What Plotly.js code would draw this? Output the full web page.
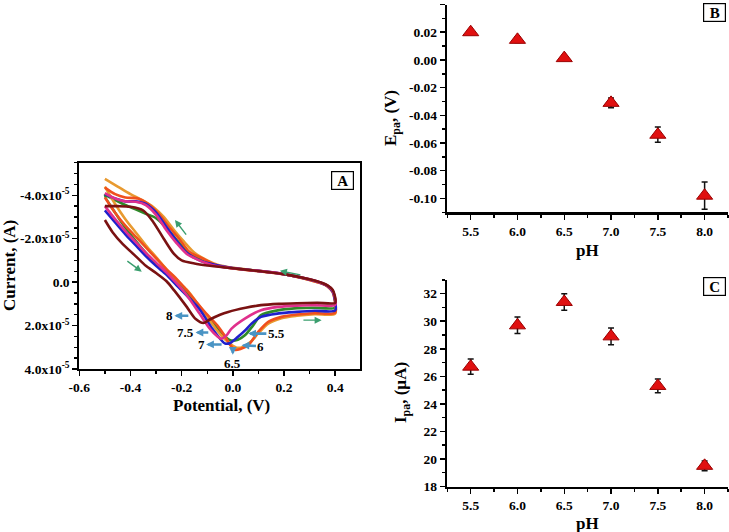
<!DOCTYPE html>
<html>
<head>
<meta charset="utf-8">
<script src="https://cdn.plot.ly/plotly-3.0.1.min.js"></script>
<style>html,body{margin:0;padding:0;background:#fff;}#chart{width:729px;height:532px;}</style>
</head>
<body>
<div id="chart"></div>
<script>
// ---------- Panel A: cyclic voltammograms (potential V, current in units of 1e-5 A) ----------
const phLabels = ['5.5', '6', '6.5', '7', '7.5', '8'];
const cvColors = ['#2f8a2a', '#e89a30', '#f0501e', '#2020cc', '#e0308c', '#7a1212'];

const cv55_x = [-0.5,-0.46,-0.42,-0.38,-0.34,-0.30,-0.26,-0.22,-0.19,-0.15,-0.10,-0.06,-0.03,-0.01,0.02,0.047,0.08,0.11,0.18,0.24,0.32,0.40,
                0.398,0.39,0.37,0.35,0.30,0.20,0.10,0.00,-0.08,-0.14,-0.18,-0.22,-0.26,-0.30,-0.34,-0.38,-0.42,-0.46,-0.50];
const cv55_y = [-4.0,-3.2,-2.5,-1.9,-1.35,-0.85,-0.45,-0.05,0.3,0.95,1.55,2.12,2.5,2.68,2.65,2.45,1.98,1.52,1.29,1.21,1.18,1.17,
                0.7,0.4,0.17,0.06,-0.12,-0.37,-0.52,-0.64,-0.8,-1.1,-1.45,-1.95,-2.5,-2.95,-3.15,-3.35,-3.55,-3.78,-4.0];

const cv6_x = [-0.5,-0.46,-0.42,-0.38,-0.34,-0.30,-0.26,-0.22,-0.18,-0.14,-0.10,-0.06,-0.02,0.015,0.04,0.07,0.10,0.14,0.19,0.25,0.32,0.40,
               0.398,0.39,0.37,0.35,0.30,0.20,0.10,0.00,-0.06,-0.10,-0.15,-0.19,-0.23,-0.27,-0.31,-0.35,-0.40,-0.45,-0.50];
const cv6_y = [-4.4,-3.6,-2.9,-2.3,-1.7,-1.15,-0.6,-0.1,0.35,0.95,1.6,2.25,2.75,3.02,2.98,2.75,2.35,1.9,1.66,1.55,1.48,1.45,
               0.8,0.45,0.2,0.08,-0.1,-0.37,-0.52,-0.66,-0.8,-1.0,-1.35,-1.85,-2.4,-3.0,-3.45,-3.75,-4.05,-4.4,-4.75];

const cv65_x = [-0.5,-0.46,-0.42,-0.38,-0.34,-0.30,-0.26,-0.22,-0.18,-0.14,-0.10,-0.06,-0.03,-0.01,0.008,0.03,0.06,0.10,0.14,0.19,0.25,0.32,0.40,
                0.398,0.39,0.37,0.35,0.30,0.20,0.10,0.00,-0.07,-0.12,-0.17,-0.21,-0.25,-0.29,-0.33,-0.37,-0.42,-0.46,-0.50];
const cv65_y = [-3.9,-3.2,-2.6,-2.1,-1.6,-1.1,-0.6,-0.15,0.38,0.95,1.5,2.0,2.5,2.9,3.12,3.08,2.91,2.28,1.82,1.6,1.49,1.43,1.4,
                0.8,0.45,0.2,0.07,-0.1,-0.36,-0.5,-0.63,-0.8,-1.1,-1.4,-2.0,-2.55,-3.15,-3.6,-3.85,-3.9,-4.05,-4.35];

const cv7_x = [-0.5,-0.46,-0.42,-0.38,-0.34,-0.30,-0.26,-0.22,-0.18,-0.13,-0.08,-0.05,-0.03,-0.01,0.02,0.05,0.073,0.11,0.18,0.25,0.32,0.40,
               0.398,0.39,0.37,0.35,0.30,0.20,0.10,0.00,-0.07,-0.13,-0.18,-0.22,-0.26,-0.30,-0.34,-0.38,-0.42,-0.46,-0.50];
const cv7_y = [-3.3,-2.75,-2.2,-1.7,-1.2,-0.75,-0.35,0.15,0.62,1.25,2.15,2.6,2.83,2.8,2.52,2.2,1.91,1.6,1.44,1.37,1.32,1.3,
               0.75,0.42,0.18,0.06,-0.12,-0.37,-0.52,-0.65,-0.8,-1.0,-1.35,-1.9,-2.55,-3.2,-3.6,-3.72,-3.72,-3.85,-4.05];

const cv75_x = [-0.5,-0.46,-0.42,-0.38,-0.34,-0.30,-0.26,-0.22,-0.18,-0.13,-0.09,-0.06,-0.045,-0.025,-0.005,0.047,0.11,0.18,0.25,0.32,0.40,
                0.398,0.39,0.37,0.35,0.30,0.20,0.10,0.00,-0.08,-0.14,-0.18,-0.22,-0.26,-0.30,-0.34,-0.38,-0.42,-0.46,-0.50];
const cv75_y = [-3.5,-2.9,-2.35,-1.85,-1.35,-0.9,-0.45,0.05,0.6,1.45,2.14,2.5,2.6,2.45,2.14,1.68,1.29,1.14,1.08,1.06,1.05,
                0.65,0.38,0.16,0.05,-0.13,-0.37,-0.52,-0.64,-0.78,-1.05,-1.3,-1.8,-2.4,-3.1,-3.55,-3.7,-3.72,-3.85,-4.1];

const cv8_x = [-0.5,-0.47,-0.43,-0.38,-0.34,-0.30,-0.26,-0.23,-0.18,-0.145,-0.115,-0.09,-0.05,-0.018,0.05,0.11,0.18,0.25,0.33,0.40,
               0.398,0.39,0.37,0.35,0.30,0.20,0.10,0.00,-0.10,-0.15,-0.20,-0.23,-0.27,-0.31,-0.35,-0.40,-0.45,-0.50];
const cv8_y = [-2.86,-2.3,-1.75,-1.2,-0.75,-0.42,-0.05,0.37,1.14,1.7,1.88,1.72,1.5,1.37,1.18,1.06,1.0,0.97,0.95,0.95,
               0.6,0.35,0.15,0.04,-0.13,-0.37,-0.51,-0.64,-0.77,-0.86,-1.0,-1.3,-2.0,-2.75,-3.3,-3.47,-3.5,-3.5];

const cvX = [cv55_x, cv6_x, cv65_x, cv7_x, cv75_x, cv8_x];
const cvY = [cv55_y, cv6_y, cv65_y, cv7_y, cv75_y, cv8_y];
const currentUnit = 1e-5;

// ---------- Panels B and C ----------
const pH = [5.5, 6.0, 6.5, 7.0, 7.5, 8.0];
const Epa = [0.020, 0.0145, 0.0013, -0.031, -0.054, -0.098];
const EpaErr = [0.0015, 0.002, 0.001, 0.0035, 0.0055, 0.0098];
const Ipa = [26.7, 29.7, 31.4, 28.9, 25.3, 19.5];
const IpaErr = [0.55, 0.6, 0.6, 0.6, 0.5, 0.35];

const aYTicks = [-4, -2, 0, 2, 4];
const aYTickText = ['-4.0x10<sup>-5</sup>', '-2.0x10<sup>-5</sup>', '0.0', '2.0x10<sup>-5</sup>', '4.0x10<sup>-5</sup>'];
const aXTicks = [-0.6, -0.4, -0.2, 0, 0.2, 0.4];
const aXTickText = ['-0.6', '-0.4', '-0.2', '0.0', '0.2', '0.4'];
const phTicks = [5.5, 6.0, 6.5, 7.0, 7.5, 8.0];
const phTickText = ['5.5', '6.0', '6.5', '7.0', '7.5', '8.0'];
const bYTicks = [0.04, 0.02, 0.00, -0.02, -0.04, -0.06, -0.08, -0.10];
const bYTickText = ['0.04', '0.02', '0.00', '-0.02', '-0.04', '-0.06', '-0.08', '-0.10'];
const cYTicks = [18, 20, 22, 24, 26, 28, 30, 32];
const cYTickText = ['18', '20', '22', '24', '26', '28', '30', '32'];

const bold = arr => arr.map(t => '<b>' + t + '</b>');
const FONT = 'Liberation Serif';
const traces = [];
for (let i = 0; i < cvX.length; i++) {
  traces.push({
    x: cvX[i], y: cvY[i].map(v => v * currentUnit), xaxis: 'x', yaxis: 'y',
    type: 'scatter', mode: 'lines', name: 'pH ' + phLabels[i],
    line: {color: cvColors[i], width: 2.6, shape: 'spline', smoothing: 0.8},
    showlegend: false, hoverinfo: 'skip'
  });
}
const markerStyle = {symbol: 'triangle-up', size: 14, color: '#e01010', line: {color: '#9a0000', width: 1}};
traces.push({
  x: pH, y: Epa, xaxis: 'x2', yaxis: 'y2', type: 'scatter', mode: 'markers', marker: markerStyle,
  error_y: {type: 'data', array: EpaErr, visible: true, color: '#111', thickness: 1.5, width: 3}, showlegend: false
});
traces.push({
  x: pH, y: Ipa, xaxis: 'x3', yaxis: 'y3', type: 'scatter', mode: 'markers', marker: markerStyle,
  error_y: {type: 'data', array: IpaErr, visible: true, color: '#111', thickness: 1.5, width: 3}, showlegend: false
});

function axisBase(extra) {
  return Object.assign({
    showgrid: false, zeroline: false, showline: true, linecolor: '#000', linewidth: 2,
    ticks: 'outside', ticklen: 5, tickwidth: 1.5, tickcolor: '#000',
    tickfont: {family: FONT, size: 13.5, color: '#000'}
  }, extra);
}

const W = 729, H = 532;
const px = v => v / W, py = v => 1 - v / H;

const annotations = [];
function title(text, x, y, angle, size) {
  annotations.push({text: text, xref: 'paper', yref: 'paper', x: px(x), y: py(y), showarrow: false,
    textangle: angle, font: {family: FONT, size: size, color: '#000'}, xanchor: 'center', yanchor: 'middle'});
}
title('<b>Current, (A)</b>', 9, 266, -90, 17);
title('<b>Potential, (V)</b>', 221, 405, 0, 17);
title('<b>E<sub>pa</sub>, (V)</b>', 392, 118, -90, 17);
title('<b>pH</b>', 587, 250, 0, 17);
title('<b>I<sub>pa</sub>, (µA)</b>', 402, 393, -90, 17);
title('<b>pH</b>', 587, 523, 0, 17);
function box(letter, x, y) {
  annotations.push({text: '<b>' + letter + '</b>', xref: 'paper', yref: 'paper', x: px(x), y: py(y),
    showarrow: false, font: {family: FONT, size: 15, color: '#000'}, bordercolor: '#000', borderwidth: 1.2,
    borderpad: 2, bgcolor: '#fff', xanchor: 'center', yanchor: 'middle', width: 17, height: 13});
}
box('A', 342, 180.5); box('B', 714.5, 12.8); box('C', 714.5, 286.7);

// sweep direction arrows (green)
function arrow(x0, y0, x1, y1) {
  annotations.push({text: '', xref: 'x', yref: 'y', axref: 'x', ayref: 'y', x: x1, y: y1 * currentUnit,
    ax: x0, ay: y0 * currentUnit, showarrow: true, arrowcolor: '#3a9e6e', arrowwidth: 1.4, arrowhead: 2,
    arrowsize: 1, standoff: 0, startstandoff: 0});
}
arrow(-0.178, -2.12, -0.226, -2.86);
arrow(-0.418, -1.02, -0.356, -0.48);
arrow(0.27, -0.32, 0.184, -0.52);
arrow(0.27, 1.75, 0.347, 1.75);
// pH labels with blue arrows: label at (tx,ty), arrow runs to (x,y); side says where the head is
function lab(t, tx, ty, x, y, side) {
  annotations.push({text: '<b>' + t + '</b>', xref: 'x', yref: 'y', axref: 'x', ayref: 'y',
    x: x, y: y * currentUnit, ax: tx, ay: ty * currentUnit, showarrow: true,
    arrowcolor: '#4a94c4', arrowwidth: 2.6, arrowhead: 2, startarrowhead: 2, arrowsize: 0.6, startarrowsize: 0.6,
    arrowside: side, standoff: 0, startstandoff: 1, borderpad: 0,
    font: {family: FONT, size: 13, color: '#000'}});
}
lab('8', -0.248, 1.55, -0.174, 1.55, 'start');
lab('7.5', -0.185, 2.32, -0.096, 2.32, 'start');
lab('7', -0.124, 2.87, -0.044, 2.87, 'start');
lab('6.5', 0.0, 3.76, 0.0, 3.2, 'start');
lab('6', 0.11, 2.95, 0.034, 2.91, 'end');
lab('5.5', 0.17, 2.37, 0.06, 2.37, 'end');

const layout = {
  width: W, height: H, autosize: false, margin: {l: 0, r: 0, t: 0, b: 0},
  paper_bgcolor: '#fff', plot_bgcolor: '#fff', showlegend: false,
  font: {family: FONT, color: '#000'},
  xaxis: axisBase({domain: [px(79.3), px(359.5)], range: [-0.6, 0.495], anchor: 'y', mirror: true,
    tickvals: aXTicks, ticktext: bold(aXTickText), minor: {dtick: 0.1, tick0: -0.6, ticks: 'outside', ticklen: 3, tickcolor: '#000'}}),
  yaxis: axisBase({domain: [py(369), py(162.7)], range: [4e-5, -5.5e-5], anchor: 'x', mirror: true,
    tickvals: aYTicks.map(v => v * currentUnit), ticktext: bold(aYTickText),
    minor: {dtick: 0.5e-5, tick0: 0, ticks: 'outside', ticklen: 3, tickcolor: '#000'}}),
  xaxis2: axisBase({domain: [px(447.3), px(728)], range: [5.25, 8.25], anchor: 'y2', linewidth: 2.5,
    tickvals: phTicks, ticktext: bold(phTickText), minor: {dtick: 0.25, tick0: 5.25, ticks: 'outside', ticklen: 3, tickcolor: '#000'}}),
  yaxis2: axisBase({domain: [py(212.3), py(4.5)], range: [-0.11, 0.04], anchor: 'x2', linewidth: 2.5,
    tickvals: bYTicks, ticktext: bold(bYTickText), minor: {dtick: 0.01, tick0: 0, ticks: 'outside', ticklen: 3, tickcolor: '#000'}}),
  xaxis3: axisBase({domain: [px(447.3), px(728)], range: [5.25, 8.25], anchor: 'y3', linewidth: 2.5,
    tickvals: phTicks, ticktext: bold(phTickText), minor: {dtick: 0.25, tick0: 5.25, ticks: 'outside', ticklen: 3, tickcolor: '#000'}}),
  yaxis3: axisBase({domain: [py(486.5), py(279.9)], range: [18, 33], anchor: 'x3', linewidth: 2.5,
    tickvals: cYTicks, ticktext: bold(cYTickText), minor: {dtick: 1, tick0: 18, ticks: 'outside', ticklen: 3, tickcolor: '#000'}}),
  annotations: annotations
};

Plotly.newPlot('chart', traces, layout, {displayModeBar: false, staticPlot: true});
</script>
</body>
</html>
